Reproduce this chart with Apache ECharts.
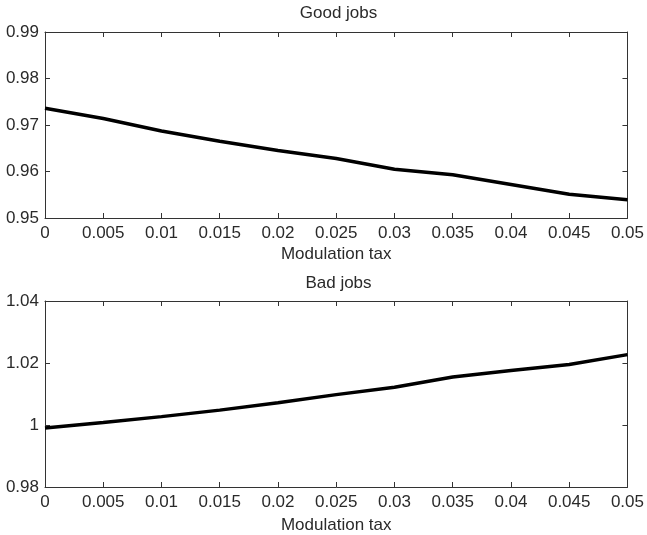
<!DOCTYPE html>
<html>
<head>
<meta charset="utf-8">
<script src="https://cdn.jsdelivr.net/npm/echarts@6/dist/echarts.min.js"></script>
<style>
html,body{margin:0;padding:0;background:#fff;}
#c{width:647px;height:535px;}
</style>
</head>
<body>
<div id="c"></div>
<script>
// ---- data ----
var taxValues = [0, 0.005, 0.01, 0.015, 0.02, 0.025, 0.03, 0.035, 0.04, 0.045, 0.05];
var goodJobs = [0.9736, 0.9714, 0.9687, 0.9665, 0.9645, 0.9628, 0.9605, 0.9593, 0.9572, 0.9551, 0.9539];
var badJobs = [0.9990, 1.0008, 1.0027, 1.0048, 1.0072, 1.0098, 1.0122, 1.0155, 1.0176, 1.0195, 1.0227];
var titles = ['Good jobs', 'Bad jobs'];
var xName = 'Modulation tax';
var goodTicks = {min: 0.95, max: 0.99, interval: 0.01};
var badTicks = {min: 0.98, max: 1.04, interval: 0.02};
var xTicks = {min: 0, max: 0.05, interval: 0.005};

var FONT = 'Liberation Sans, Arial, sans-serif';
var TXT = '#2a2a2a';
var LINE = '#333';

function fmt(v){ return String(parseFloat(v.toFixed(4))); }

function pairs(xs, ys){ return xs.map(function(x,i){ return [x, ys[i]]; }); }

var grids = [
  {left: 45, right: 15, top: 32, height: 186},
  {left: 45, right: 15, top: 301, height: 187}
];

var xAxes = [], yAxes = [];
[0,1].forEach(function(g){
  xAxes.push({
    type: 'value', gridIndex: g, position: 'bottom',
    min: xTicks.min, max: xTicks.max, interval: xTicks.interval,
    name: xName, nameLocation: 'middle', nameGap: g === 0 ? 28 : 30,
    nameTextStyle: {fontFamily: FONT, fontSize: 17, color: TXT},
    axisLine: {show: true, onZero: false, lineStyle: {color: LINE, width: 1}},
    axisTick: {show: true, inside: true, length: 5, lineStyle: {color: LINE}},
    axisLabel: {show: true, margin: 7, fontFamily: FONT, fontSize: 17, color: TXT,
      showMinLabel: true, showMaxLabel: true, hideOverlap: false, formatter: fmt},
    splitLine: {show: false}
  });
  xAxes.push({
    type: 'value', gridIndex: g, position: 'top',
    min: xTicks.min, max: xTicks.max, interval: xTicks.interval,
    axisLine: {show: true, onZero: false, lineStyle: {color: LINE, width: 1}},
    axisTick: {show: true, inside: true, length: 5, lineStyle: {color: LINE}},
    axisLabel: {show: false},
    splitLine: {show: false}
  });
  var t = g === 0 ? goodTicks : badTicks;
  yAxes.push({
    type: 'value', gridIndex: g, position: 'left',
    min: t.min, max: t.max, interval: t.interval,
    axisLine: {show: true, onZero: false, lineStyle: {color: LINE, width: 1}},
    axisTick: {show: true, inside: true, length: 5, lineStyle: {color: LINE}},
    axisLabel: {show: true, margin: 6, fontFamily: FONT, fontSize: 17, color: TXT,
      showMinLabel: true, showMaxLabel: true, formatter: fmt},
    splitLine: {show: false}
  });
  yAxes.push({
    type: 'value', gridIndex: g, position: 'right',
    min: t.min, max: t.max, interval: t.interval,
    axisLine: {show: true, onZero: false, lineStyle: {color: LINE, width: 1}},
    axisTick: {show: true, inside: true, length: 5, lineStyle: {color: LINE}},
    axisLabel: {show: false},
    splitLine: {show: false}
  });
});

var option = {
  backgroundColor: '#fff',
  animation: false,
  title: [
    {text: titles[0], left: 338.5, textAlign: 'center', top: 5, padding: 0,
      textStyle: {fontFamily: FONT, fontSize: 17, fontWeight: 'normal', color: TXT}},
    {text: titles[1], left: 338.5, textAlign: 'center', top: 275, padding: 0,
      textStyle: {fontFamily: FONT, fontSize: 17, fontWeight: 'normal', color: TXT}}
  ],
  grid: grids,
  xAxis: xAxes,
  yAxis: yAxes,
  series: [
    {type: 'line', xAxisIndex: 0, yAxisIndex: 0, data: pairs(taxValues, goodJobs),
      showSymbol: false, lineStyle: {color: '#000', width: 3.5}, silent: true},
    {type: 'line', xAxisIndex: 2, yAxisIndex: 2, data: pairs(taxValues, badJobs),
      showSymbol: false, lineStyle: {color: '#000', width: 3.5}, silent: true}
  ]
};

var chart = echarts.init(document.getElementById('c'), null, {renderer: 'canvas'});
chart.setOption(option);
</script>
</body>
</html>
